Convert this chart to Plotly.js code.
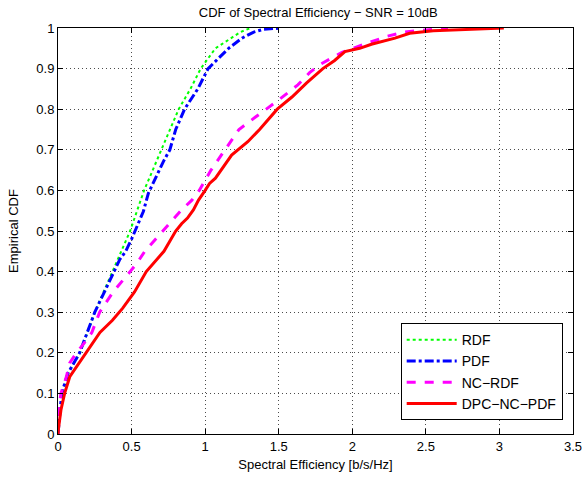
<!DOCTYPE html>
<html>
<head>
<meta charset="utf-8">
<script src="https://cdn.plot.ly/plotly-3.0.1.min.js"></script>
<style>html,body{margin:0;padding:0;background:#fff;}#chart{width:584px;height:478px;}</style>
</head>
<body>
<div id="chart"></div>
<script>
// RDF
const rdfX = [0, 0.01, 0.03, 0.07, 0.15, 0.25, 0.37, 0.49, 0.585, 0.70, 0.76, 0.82, 0.90, 0.97, 1.07, 1.24, 1.31];
const rdfY = [0, 0.05, 0.1, 0.15, 0.2, 0.3, 0.4, 0.5, 0.6, 0.7, 0.75, 0.8, 0.85, 0.9, 0.95, 0.99, 1];
// PDF
const pdfX = [0, 0.01, 0.025, 0.068, 0.147, 0.25, 0.38, 0.42, 0.46, 0.50, 0.58, 0.614, 0.716, 0.76, 0.80, 0.86, 0.95, 1.02, 1.16, 1.25, 1.33, 1.40, 1.52];
const pdfY = [0, 0.05, 0.1, 0.15, 0.2, 0.3, 0.4, 0.43, 0.45, 0.48, 0.548, 0.593, 0.671, 0.7, 0.75, 0.8, 0.85, 0.9, 0.95, 0.975, 0.99, 0.997, 1];
// NC-RDF
const ncrdfX = [0, 0.0, 0.02, 0.057, 0.08, 0.125, 0.17, 0.23, 0.283, 0.375, 0.49, 0.535, 0.59, 0.71, 0.835, 0.91, 0.96, 1.04, 1.135, 1.23, 1.34, 1.49, 1.63, 1.71, 1.78, 1.93, 2.08, 2.24, 2.35, 2.5, 2.65];
const ncrdfY = [0, 0.05, 0.1, 0.141, 0.175, 0.2, 0.22, 0.25, 0.3, 0.35, 0.4, 0.42, 0.45, 0.5, 0.55, 0.576, 0.6, 0.65, 0.7, 0.75, 0.78, 0.82, 0.86, 0.89, 0.91, 0.94, 0.96, 0.98, 0.99, 0.995, 1];
// DPC-NC-PDF
const dpcX = [0, 0.002, 0.02, 0.045, 0.08, 0.115, 0.19, 0.285, 0.37, 0.44, 0.52, 0.60, 0.72, 0.80, 0.84, 0.88, 0.92, 0.955, 1.0, 1.03, 1.07, 1.18, 1.29, 1.37, 1.49, 1.59, 1.69, 1.80, 1.88, 1.95, 2.05, 2.13, 2.29, 2.39, 2.55, 2.78, 3.03];
const dpcY = [0, 0.01, 0.059, 0.1, 0.141, 0.16, 0.2, 0.25, 0.28, 0.31, 0.35, 0.40, 0.45, 0.5, 0.518, 0.532, 0.552, 0.576, 0.6, 0.617, 0.63, 0.687, 0.72, 0.75, 0.8, 0.83, 0.865, 0.9, 0.92, 0.942, 0.95, 0.96, 0.975, 0.987, 0.993, 0.997, 1];

const names = ['RDF', 'PDF', 'NC\u2212RDF', 'DPC\u2212NC\u2212PDF'];

const traces = [
  {x: rdfX, y: rdfY, name: names[0], mode: 'lines', line: {color: '#00ff00', width: 2, dash: 'dot'}},
  {x: pdfX, y: pdfY, name: names[1], mode: 'lines', line: {color: '#0000ff', width: 3, dash: 'dashdot'}},
  {x: ncrdfX, y: ncrdfY, name: names[2], mode: 'lines', line: {color: '#ff00ff', width: 3, dash: 'dash'}},
  {x: dpcX, y: dpcY, name: names[3], mode: 'lines', line: {color: '#ff0000', width: 3, dash: 'solid'}}
];

const fontFam = '"Liberation Sans", Arial, Helvetica, sans-serif';
const axisCommon = {
  showline: true, linecolor: '#000', linewidth: 1, mirror: 'allticks',
  ticks: 'inside', ticklen: 5, tickcolor: '#000',
  showgrid: true, gridcolor: 'rgba(0,0,0,0.7)', griddash: '1px,3px', gridwidth: 1,
  zeroline: false, tickfont: {family: fontFam, size: 13, color: '#000'}
};

const layout = {
  width: 584, height: 478,
  margin: {l: 58, r: 11, t: 28, b: 44},
  paper_bgcolor: '#fff', plot_bgcolor: '#fff',
  font: {family: fontFam, size: 13, color: '#000'},
  title: {text: 'CDF of Spectral Efficiency \u2212 SNR = 10dB', x: 0.545, xanchor: 'center', y: 0.975, yanchor: 'middle', font: {family: fontFam, size: 13, color: '#000'}},
  xaxis: Object.assign({}, axisCommon, {range: [0, 3.5], dtick: 0.5, tick0: 0,
    title: {text: 'Spectral Efficiency [b/s/Hz]', standoff: 7, font: {family: fontFam, size: 13}}}),
  yaxis: Object.assign({}, axisCommon, {range: [0, 1], dtick: 0.1, tick0: 0,
    title: {text: 'Empirical CDF', standoff: 14, font: {family: fontFam, size: 13}}}),
  showlegend: true,
  legend: {x: 0.98, xanchor: 'right', y: 0.034, yanchor: 'bottom', bgcolor: '#fff',
    bordercolor: '#000', borderwidth: 1, itemwidth: 50, tracegroupgap: 0,
    font: {family: fontFam, size: 14, color: '#000'}}
};

Plotly.newPlot('chart', traces, layout, {displayModeBar: false, staticPlot: true});
</script>
</body>
</html>
